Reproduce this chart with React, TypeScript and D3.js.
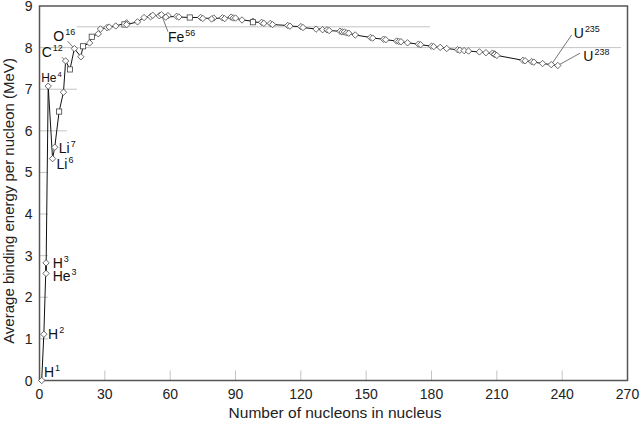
import React from 'react';
import * as d3 from 'd3';

// nuclides in the order the curve joins them (by element)
const nuclides = [
  'H1', 'H2', 'H3', 'He3', 'He4', 'Li6', 'Li7', 'Be9', 'B11', 'C12', 'N14', 'O16', 'F19', 'Ne20',
  'Na23', 'Mg24', 'Al27', 'Si28', 'P31', 'S32', 'Cl35', 'Ar40', 'K39', 'Ca40', 'Sc45', 'Ti48',
  'V51', 'Cr52', 'Mn55', 'Fe56', 'Co59', 'Ni58', 'Cu63', 'Zn64', 'Ga69', 'Ge74', 'As75', 'Se80',
  'Br79', 'Kr84', 'Rb85', 'Sr88', 'Y89', 'Zr90', 'Nb93', 'Mo98', 'Tc98', 'Ru102', 'Rh103',
  'Pd106', 'Ag107', 'Cd114', 'In115', 'Sn120', 'Sb121', 'Te130', 'I127', 'Xe132', 'Cs133',
  'Ba138', 'La139', 'Ce140', 'Pr141', 'Nd142', 'Pm145', 'Sm152', 'Eu153', 'Gd158', 'Tb159',
  'Dy164', 'Ho165', 'Er166', 'Tm169', 'Yb174', 'Lu175', 'Hf180', 'Ta181', 'W184', 'Re187',
  'Os192', 'Ir193', 'Pt195', 'Au197', 'Hg202', 'Tl205', 'Pb208', 'Bi209', 'Po209', 'At210',
  'Rn222', 'Fr223', 'Ra226', 'Ac227', 'Pa231', 'U235', 'U238',
];
const massNumbers = [
  1, 2, 3, 3, 4, 6, 7, 9, 11, 12, 14, 16, 19, 20,
  23, 24, 27, 28, 31, 32, 35, 40, 39, 40, 45, 48,
  51, 52, 55, 56, 59, 58, 63, 64, 69, 74, 75, 80,
  79, 84, 85, 88, 89, 90, 93, 98, 98, 102, 103,
  106, 107, 114, 115, 120, 121, 130, 127, 132, 133,
  138, 139, 140, 141, 142, 145, 152, 153, 158, 159,
  164, 165, 166, 169, 174, 175, 180, 181, 184, 187,
  192, 193, 195, 197, 202, 205, 208, 209, 209, 210,
  222, 223, 226, 227, 231, 235, 238,
];
const bindingPerNucleon = [
  0, 1.112, 2.827, 2.573, 7.074, 5.332, 5.606, 6.463, 6.928, 7.68, 7.476, 7.976, 7.779, 8.032,
  8.112, 8.261, 8.332, 8.448, 8.481, 8.493, 8.52, 8.595, 8.557, 8.551, 8.619, 8.723,
  8.742, 8.776, 8.765, 8.79, 8.768, 8.732, 8.752, 8.736, 8.724, 8.725, 8.701, 8.711,
  8.688, 8.717, 8.697, 8.733, 8.714, 8.71, 8.664, 8.635, 8.61, 8.607, 8.584,
  8.58, 8.554, 8.532, 8.516, 8.505, 8.482, 8.43, 8.445, 8.428, 8.41,
  8.393, 8.378, 8.376, 8.354, 8.346, 8.303, 8.244, 8.229, 8.202, 8.189,
  8.159, 8.147, 8.142, 8.115, 8.084, 8.069, 8.035, 8.023, 8.005, 7.978,
  7.948, 7.938, 7.927, 7.916, 7.897, 7.878, 7.868, 7.848, 7.835, 7.812,
  7.695, 7.683, 7.662, 7.651, 7.618, 7.591, 7.57,
];
// nuclides drawn with a square marker instead of a diamond
const squareMarked = ['Be9', 'N14', 'Ne20', 'Mg24', 'K39', 'Ga69', 'Tc98'];

const xTicks = [0, 30, 60, 90, 120, 150, 180, 210, 240, 270];
const yTicks = [0, 1, 2, 3, 4, 5, 6, 7, 8, 9];
// reference lines: [energy, from A, to A]
const refLines = [
  [8.5, 17.2, 179.3],
  [8, 0, 267],
  [7, 0, 17.2],
  [6, 0, 12.6],
  [5, 0, 3.9],
  [4, 0, 3.9],
  [3, 0, 3.9],
  [2, 0, 3.9],
  [1, 0, 3.9],
];

// labelled nuclides: element, mass superscript, text offset from point, optional leader end
const labels = [
  { id: 'H1', el: 'H', sup: '1', dx: 2.3, dy: -3.5, small: false },
  { id: 'H2', el: 'H', sup: '2', dx: 4.2, dy: 5, small: false },
  { id: 'H3', el: 'H', sup: '3', dx: 6.6, dy: 5.2, small: false },
  { id: 'He3', el: 'He', sup: '3', dx: 6.6, dy: 7.4, small: false },
  { id: 'He4', el: 'He', sup: '4', dx: -7, dy: -4, small: true },
  { id: 'Li7', el: 'Li', sup: '7', dx: 4, dy: 6, small: false },
  { id: 'Li6', el: 'Li', sup: '6', dx: 4, dy: 10.6, small: false },
  { id: 'C12', el: 'C', sup: '12', dx: -24, dy: -4.3, small: false, lx: -3.8, ly: -3.8 },
  { id: 'O16', el: 'O', sup: '16', dx: -21, dy: -8, small: false, lx: -6.8, ly: -7.5 },
  { id: 'Fe56', el: 'Fe', sup: '56', dx: 6.5, dy: 27, small: false, lx: 6.5, ly: 17 },
  { id: 'U235', el: 'U', sup: '235', dx: 22.5, dy: -26.4, small: false, lx: 20.4, ly: -29.7 },
  { id: 'U238', el: 'U', sup: '238', dx: 25.5, dy: -4.9, small: false, lx: 22.2, ly: -12.3 },
];

const W = 640;
const H = 421;
const font = '"Liberation Sans", Arial, sans-serif';

const App = () => {
  const x = d3.scaleLinear().domain([0, 270]).range([39.5, 627.5]);
  const y = d3.scaleLinear().domain([0, 9]).range([380.5, 6]);

  const points = nuclides.map((id, i) => ({
    id,
    a: massNumbers[i],
    e: bindingPerNucleon[i],
    square: squareMarked.includes(id),
  }));

  const line = d3
    .line<any>()
    .x((d) => x(d.a))
    .y((d) => y(d.e));

  const diamond = (cx, cy, r) =>
    `M${cx},${cy - r}L${cx + r},${cy}L${cx},${cy + r}L${cx - r},${cy}Z`;

  return (
    <svg
      width={W}
      height={H}
      style={{ position: 'absolute', left: 0, top: 0, background: '#fff' }}
      fontFamily={font}
    >
      {/* reference lines and short ticks */}
      {refLines.map(([v, a0, a1], i) => (
        <line
          key={'r' + i}
          x1={x(a0)}
          x2={x(a1)}
          y1={y(v)}
          y2={y(v)}
          stroke="#c4c4c4"
          strokeWidth={1}
        />
      ))}
      {xTicks.slice(1, -1).map((t) => (
        <line
          key={'xt' + t}
          x1={x(t)}
          x2={x(t)}
          y1={y(0)}
          y2={y(0) - 10}
          stroke="#c4c4c4"
          strokeWidth={1}
        />
      ))}

      {/* frame */}
      <rect
        x={x(0)}
        y={y(9)}
        width={x(270) - x(0)}
        height={y(0) - y(9)}
        fill="none"
        stroke="#555"
        strokeWidth={1.5}
      />

      {/* tick labels */}
      {xTicks.map((t) => (
        <text key={'xl' + t} x={x(t)} y={y(0) + 18} textAnchor="middle" fontSize={14} fill="#222">
          {t}
        </text>
      ))}
      {yTicks.map((t) => (
        <text key={'yl' + t} x={x(0) - 7} y={y(t) + 5} textAnchor="end" fontSize={14} fill="#222">
          {t}
        </text>
      ))}

      {/* axis titles */}
      <text x={335} y={418} textAnchor="middle" fontSize={15.5} fill="#222">
        Number of nucleons in nucleus
      </text>
      <text
        transform={`translate(14,${201}) rotate(-90)`}
        textAnchor="middle"
        fontSize={15}
        fill="#222"
      >
        Average binding energy per nucleon (MeV)
      </text>

      {/* leader lines */}
      {labels
        .filter((l) => l.lx !== undefined)
        .map((l) => {
          const p = points.find((q) => q.id === l.id);
          return (
            <line
              key={'ld' + l.id}
              x1={x(p.a)}
              y1={y(p.e)}
              x2={x(p.a) + l.lx}
              y2={y(p.e) + l.ly}
              stroke="#666"
              strokeWidth={0.9}
            />
          );
        })}

      {/* curve */}
      <path d={line(points)} fill="none" stroke="#111" strokeWidth={1} />
      {points.map((p, i) =>
        p.square ? (
          <rect
            key={'m' + i}
            x={x(p.a) - 2.6}
            y={y(p.e) - 2.6}
            width={5.2}
            height={5.2}
            fill="#fff"
            stroke="#444"
            strokeWidth={0.8}
          />
        ) : (
          <path
            key={'m' + i}
            d={diamond(x(p.a), y(p.e), 3.2)}
            fill="#fff"
            stroke="#444"
            strokeWidth={0.8}
          />
        )
      )}

      {/* nuclide labels */}
      {labels.map((l) => {
        const p = points.find((q) => q.id === l.id);
        const size = l.small ? 12 : 14;
        return (
          <text
            key={'lb' + l.id}
            x={x(p.a) + l.dx}
            y={y(p.e) + l.dy}
            fontSize={size}
            fill="#111"
          >
            {l.el}
            <tspan fontSize={size * 0.64} dx={1} dy={-size * 0.42}>
              {l.sup}
            </tspan>
          </text>
        );
      })}
    </svg>
  );
};

export default App;
